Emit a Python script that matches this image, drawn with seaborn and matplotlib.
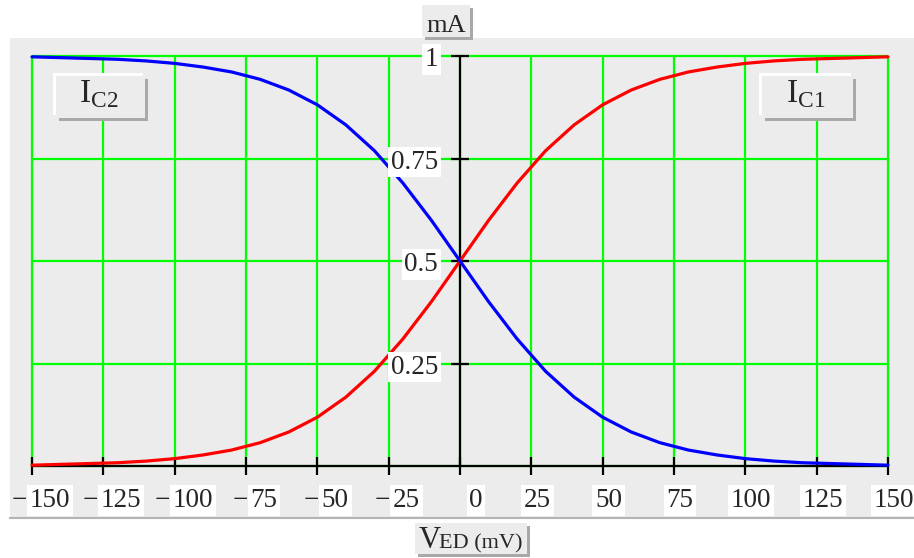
import matplotlib
matplotlib.use("Agg")
import matplotlib.pyplot as plt
import seaborn as sns
from matplotlib import transforms
from matplotlib.patches import Rectangle

# V_ED in mV, collector currents in mA
v_ed = [-150, -140, -130, -120, -110, -100, -90, -80, -70, -60, -50, -40, -30, -20, -10,
        0, 10, 20, 30, 40, 50, 60, 70, 80, 90, 100, 110, 120, 130, 140, 150]
i_c1 = [0.002, 0.004, 0.006, 0.008, 0.012, 0.018, 0.027, 0.039, 0.057, 0.083, 0.119,
        0.168, 0.231, 0.310, 0.401, 0.500, 0.599, 0.690, 0.769, 0.832, 0.881, 0.917,
        0.943, 0.961, 0.973, 0.982, 0.988, 0.992, 0.994, 0.996, 0.998]
i_c2 = [0.998, 0.996, 0.994, 0.992, 0.988, 0.982, 0.973, 0.961, 0.943, 0.917, 0.881,
        0.832, 0.769, 0.690, 0.599, 0.500, 0.401, 0.310, 0.231, 0.168, 0.119, 0.083,
        0.057, 0.039, 0.027, 0.018, 0.012, 0.008, 0.006, 0.004, 0.002]

x_ticks = [-150, -125, -100, -75, -50, -25, 0, 25, 50, 75, 100, 125, 150]
y_ticks = [0.25, 0.5, 0.75, 1]
y_tick_labels = ["0.25", "0.5", "0.75", "1"]

sns.set_style("white")
plt.rcParams["font.family"] = ["Liberation Serif", "DejaVu Serif"]
plt.rcParams["mathtext.fontset"] = "custom"
plt.rcParams["mathtext.rm"] = "Liberation Serif"

W, H = 914, 558
fig = plt.figure(figsize=(W / 100, H / 100), dpi=100)
ax = fig.add_axes([10 / W, 1 - 518 / H, 904 / W, 480 / H])
ax.set_facecolor("#ececec")
ax.set_xlim(-157.71, 159.11)
ax.set_ylim(-0.1268, 1.0439)
ax.set_xticks([])
ax.set_yticks([])
for s in ["top", "left", "right"]:
    ax.spines[s].set_visible(False)
ax.spines["bottom"].set_color("#b4b4b4")
ax.spines["bottom"].set_linewidth(1.5)

# green grid
green = "#00ff00"
ax.vlines(x_ticks, 0, 1, color=green, lw=1.6, zorder=1)
ax.hlines([0] + y_ticks, -150, 150, color=green, lw=1.6, zorder=1)

# black axes crossing at x = 0
ax.hlines(0, -150, 150, color="black", lw=1.6, zorder=2)
ax.vlines(0, 0, 1, color="black", lw=1.6, zorder=2)
ax.plot(x_ticks, [0] * len(x_ticks), ls="none", marker="|", ms=13, mew=1.6,
        color="black", zorder=2)
ax.plot([0] * len(y_ticks), y_ticks, ls="none", marker="_", ms=13, mew=1.6,
        color="black", zorder=2)

sns.lineplot(x=v_ed, y=i_c1, ax=ax, color="#ff0000", lw=2.3, zorder=3)
sns.lineplot(x=v_ed, y=i_c2, ax=ax, color="#0000ff", lw=2.3, zorder=3)


def off(dx, dy):
    return transforms.offset_copy(ax.transData, fig=fig, x=dx, y=dy, units="dots")


fs = 19.5
box = dict(boxstyle="square,pad=0.1", fc="white", ec="none")
for t in x_ticks:
    if t < 0:
        txt = ax.text(t, 0, str(-t), transform=off(18, -41), ha="center",
                      va="baseline", fontsize=fs, bbox=box, zorder=4)
        ax.annotate("\u2212", xy=(0, 0), xycoords=txt, xytext=(-3, 0),
                    textcoords="offset pixels", ha="right", va="bottom",
                    fontsize=fs, zorder=4)
    else:
        dx = 16 if t == 0 else 6
        ax.text(t, 0, str(t), transform=off(dx, -41), ha="center",
                va="baseline", fontsize=fs, bbox=box, zorder=4)

for v, lab in zip(y_ticks, y_tick_labels):
    ax.text(0, v, lab, transform=off(-22, -10), ha="right", va="baseline",
            fontsize=fs, bbox=box, zorder=4)


# raised label boxes, in pixel coordinates
def rect(x0, y0, x1, y1, color):
    fig.add_artist(Rectangle((x0 / W, 1 - y1 / H), (x1 - x0) / W, (y1 - y0) / H,
                             transform=fig.transFigure, fc=color, ec="none", zorder=5))


def label_box(x0, y0, x1, y1, raised=False):
    if raised:
        rect(x0 - 3, y0 - 3, x1 - 2, y1 - 3, "white")
    rect(x0 + 3, y0 + 3, x1 + 3, y1 + 3, "#a9a9a9")
    rect(x0, y0, x1, y1, "#ececec")


def ftext(x, y, s, **kw):
    fig.text(x / W, 1 - y / H, s, zorder=6, **kw)


label_box(422, 5, 470, 37)
ftext(446, 32, "mA", ha="center", va="baseline", fontsize=19)

label_box(415, 523, 527, 554)
ftext(419, 548, "V", ha="left", va="baseline", fontsize=22)
ftext(439, 548, "ED (mV)", ha="left", va="baseline", fontsize=16)

label_box(56, 76, 145, 118, raised=True)
ftext(99, 102, r"$\mathrm{I}_{\mathrm{C2}}$", ha="center", va="baseline", fontsize=24)

label_box(762, 76, 853, 118, raised=True)
ftext(806, 102, r"$\mathrm{I}_{\mathrm{C1}}$", ha="center", va="baseline", fontsize=24)

fig.savefig("out.png", dpi=100)
